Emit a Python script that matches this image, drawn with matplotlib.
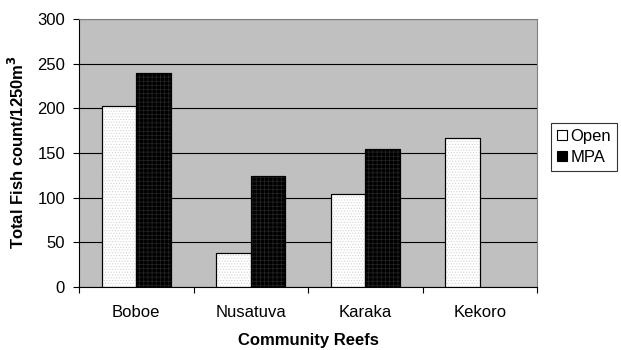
import numpy as np
import matplotlib
matplotlib.use("Agg")
import matplotlib.pyplot as plt

plt.rcParams['font.family'] = ['Liberation Sans', 'DejaVu Sans']
plt.rcParams['hatch.linewidth'] = 0.5

reefs = ["Boboe", "Nusatuva", "Karaka", "Kekoro"]
open_counts = [203, 38, 104, 167]
mpa_counts = [239, 124, 154, np.nan]
y_ticks = [0, 50, 100, 150, 200, 250, 300]

W, H = 621, 350
fig = plt.figure(figsize=(W / 100, H / 100), dpi=100)
ax = fig.add_axes([79 / W, 1 - 287 / H, (537 - 79) / W, (287 - 19) / H])
ax.set_facecolor('#c0c0c0')

x = np.arange(len(reefs))
w = 0.3

# Open: white fill with a faint dotted texture
b1 = ax.bar(x - w / 2, open_counts, w, facecolor='white', edgecolor='black',
            linewidth=0.8, label='Open', zorder=3)
ax.bar(x - w / 2, open_counts, w, facecolor='none', edgecolor='#d4d4d4',
       linewidth=0, hatch='......', zorder=3.5)
ax.bar(x - w / 2, open_counts, w, facecolor='none', edgecolor='black',
       linewidth=0.8, zorder=3.6)

# MPA: black fill with a dark grid texture
b2 = ax.bar(x + w / 2, mpa_counts, w, facecolor='black', edgecolor='black',
            linewidth=0.8, label='MPA', zorder=3)
ax.bar(x + w / 2, mpa_counts, w, facecolor='none', edgecolor='#262626',
       linewidth=0, hatch='++++', zorder=3.5)
ax.bar(x + w / 2, mpa_counts, w, facecolor='none', edgecolor='black',
       linewidth=0.8, zorder=3.6)

ax.set_ylim(0, 300)
ax.set_xlim(-0.5, len(reefs) - 0.5)
ax.set_yticks(y_ticks)
ax.yaxis.grid(True, color='black', linewidth=0.8, zorder=1)
ax.set_axisbelow(True)

ax.set_xticks(x)
ax.set_xticklabels(reefs, fontsize=12)
ax.tick_params(axis='x', length=0, pad=13)
ax.set_xticks(np.arange(-0.5, len(reefs)), minor=True)
ax.tick_params(axis='x', which='minor', length=4, width=0.8, direction='out')
ax.tick_params(axis='y', length=4, width=0.8, direction='out', labelsize=12, pad=6)

for s in ['top', 'right']:
    ax.spines[s].set_color('#808080')
    ax.spines[s].set_linewidth(0.8)
for s in ['left', 'bottom']:
    ax.spines[s].set_color('black')
    ax.spines[s].set_linewidth(0.8)

fig.text(17 / W, 1 - 152 / H, 'Total Fish count/1250m$^\\mathbf{3}$', rotation=90,
         fontsize=12, fontweight='bold', ha='center', va='center')
fig.text((79 + 537) / 2 / W, 1 - 341 / H, 'Community Reefs',
         fontsize=12, fontweight='bold', ha='center', va='center')

leg = ax.legend(handles=[b1, b2], labels=['Open', 'MPA'], loc='upper left',
                bbox_to_anchor=(551 / W, 1 - 181 / H, 68 / W, 58 / H),
                bbox_transform=fig.transFigure, fontsize=12, frameon=True,
                fancybox=False, edgecolor='black', handlelength=0.6,
                handleheight=0.6, handletextpad=0.2, borderpad=0.35,
                labelspacing=0.35, borderaxespad=0)
leg.get_frame().set_linewidth(0.8)

fig.savefig('out.png', dpi=100)
